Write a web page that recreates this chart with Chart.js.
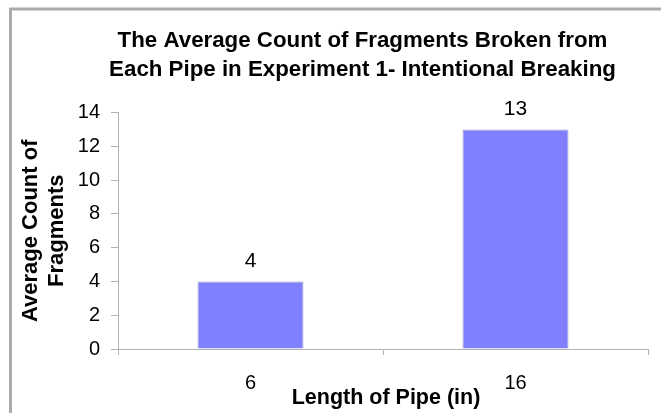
<!DOCTYPE html>
<html><head><meta charset="utf-8">
<script src="https://cdn.jsdelivr.net/npm/chart.js@4/dist/chart.umd.min.js"></script>
<style>html,body{margin:0;padding:0;background:#fff}#wrap{width:661px;height:413px}</style>
</head><body><div id="wrap"><canvas id="c" width="661" height="413"></canvas></div>
<script>
const categories = ['6', '16'];
const avgCount = [4, 13];
const yTicks = [0, 2, 4, 6, 8, 10, 12, 14];
const titleLines = ['The Average Count of Fragments Broken from', 'Each Pipe in Experiment 1- Intentional Breaking'];
const yTitleLines = ['Average Count of', 'Fragments'];
const xTitle = 'Length of Pipe (in)';

const FONT = "'Liberation Sans', Arial, Helvetica, sans-serif";

const decor = {
  id: 'decor',
  beforeDraw(chart) {
    const ctx = chart.ctx;
    ctx.save();
    ctx.strokeStyle = '#ababab';
    ctx.lineWidth = 3;
    ctx.beginPath();
    ctx.moveTo(10.5, 413); ctx.lineTo(10.5, 9); ctx.lineTo(661, 9);
    ctx.stroke();
    ctx.restore();
  },
  afterDraw(chart) {
    const ctx = chart.ctx;
    const ca = chart.chartArea;
    ctx.save();
    ctx.fillStyle = '#000';
    ctx.textAlign = 'center';
    ctx.textBaseline = 'alphabetic';
    ctx.font = 'bold 22.3px ' + FONT;
    ctx.fillText(titleLines[0], 362.5, 47);
    ctx.fillText(titleLines[1], 362.5, 75.5);
    // x title
    ctx.font = 'bold 21.5px ' + FONT;
    ctx.fillText(xTitle, (ca.left + ca.right) / 2 + 3, 403.5);
    // y title
    ctx.save();
    ctx.translate(0, (ca.top + ca.bottom) / 2);
    ctx.rotate(-Math.PI / 2);
    ctx.font = 'bold 22px ' + FONT;
    ctx.fillText(yTitleLines[0], 0, 36.5);
    ctx.fillText(yTitleLines[1], 0, 63);
    ctx.restore();
    // data labels
    ctx.font = '21px ' + FONT;
    const meta = chart.getDatasetMeta(0);
    meta.data.forEach((bar, i) => {
      ctx.fillText(String(avgCount[i]), bar.x, bar.y - 14);
    });
    ctx.restore();
  }
};

new Chart(document.getElementById('c'), {
  type: 'bar',
  data: {
    labels: categories,
    datasets: [{
      data: avgCount,
      backgroundColor: '#8080ff',
      borderColor: '#a4a4c8',
      borderWidth: 1,
      categoryPercentage: 1,
      barPercentage: 0.4
    }]
  },
  options: {
    responsive: false,
    animation: false,
    events: [],
    layout: { padding: { top: 112.5, right: 13, left: 0, bottom: 0 } },
    plugins: { legend: { display: false }, tooltip: { enabled: false }, title: { display: false } },
    scales: {
      x: {
        afterFit(s) { s.height = 64; },
        border: { color: '#b3b3b3', width: 1 },
        grid: { offset: true, drawOnChartArea: false, tickLength: 6, color: '#b3b3b3' },
        ticks: { color: '#000', font: { family: FONT, size: 20 }, padding: 16 }
      },
      y: {
        min: yTicks[0], max: yTicks[yTicks.length - 1],
        afterFit(s) { s.width = 118; },
        afterBuildTicks(s) { s.ticks = yTicks.map(v => ({ value: v })); },
        border: { color: '#b3b3b3', width: 1 },
        grid: { drawOnChartArea: false, tickLength: 7, color: '#b3b3b3' },
        ticks: { color: '#000', font: { family: FONT, size: 20 }, padding: 11 }
      }
    }
  },
  plugins: [decor]
});
</script>
</body></html>
